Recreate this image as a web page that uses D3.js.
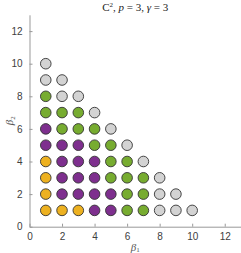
<!DOCTYPE html>
<html>
<head>
<meta charset="utf-8">
<script src="https://cdn.jsdelivr.net/npm/d3@7"></script>
<style>
  body { margin: 0; background: #fff; }
  .tick text { font-family: "Liberation Sans", Arial, sans-serif; font-size: 10px; fill: #404040; }
  .axis path, .axis line { stroke: #999; }
</style>
</head>
<body>
<svg width="241" height="253"></svg>
<script>
// category per row (beta2 = 1..10), entries are beta1 = 1..n
var classNames = ["yellow", "purple", "green", "gray"];
var classColors = ["#EDB120", "#7E2F8E", "#77AC30", "#D3D3D3"];
var rowClasses = [
    [0, 0, 0, 1, 1, 2, 2, 3, 3, 3],
    [0, 1, 1, 1, 1, 2, 2, 3, 3],
    [0, 1, 1, 1, 2, 2, 2, 3],
    [0, 1, 1, 1, 2, 2, 3],
    [1, 1, 1, 2, 2, 3],
    [1, 2, 2, 2, 3],
    [2, 2, 2, 3],
    [2, 3, 3],
    [3, 3],
    [3]
];
var xTicks = [0, 2, 4, 6, 8, 10, 12];
var yTicks = [0, 2, 4, 6, 8, 10, 12];

var points = [];
rowClasses.forEach(function (row, j) {
    row.forEach(function (c, i) {
        points.push({b1: i + 1, b2: j + 1, cls: c});
    });
});

var svg = d3.select("svg"),
    margin = {top: 14.8, right: 0, bottom: 26.3, left: 29.5},
    width = +svg.attr("width") - margin.left - margin.right,
    height = +svg.attr("height") - margin.top - margin.bottom;

var x = d3.scaleLinear().domain([0, 13]).range([0, width]),
    y = d3.scaleLinear().domain([0, 13]).range([height, 0]);

var g = svg.append("g")
    .attr("transform", "translate(" + margin.left + "," + margin.top + ")");

g.append("g")
    .attr("class", "axis axis--x")
    .attr("transform", "translate(0," + height + ")")
    .call(d3.axisBottom(x).tickValues(xTicks).tickSizeInner(-3).tickSizeOuter(0).tickPadding(6));

g.append("g")
    .attr("class", "axis axis--y")
    .call(d3.axisLeft(y).tickValues(yTicks).tickSizeInner(-3).tickSizeOuter(0).tickPadding(7));

g.selectAll(".dot")
    .data(points)
    .enter().append("circle")
    .attr("class", function (d) { return "dot " + classNames[d.cls]; })
    .attr("cx", function (d) { return x(d.b1); })
    .attr("cy", function (d) { return y(d.b2); })
    .attr("r", 5.3)
    .attr("fill", function (d) { return classColors[d.cls]; })
    .attr("stroke", "#333")
    .attr("stroke-width", 0.9);

// title
var title = svg.append("text")
    .attr("x", margin.left + width / 2)
    .attr("y", 11)
    .attr("text-anchor", "middle")
    .style("font-family", "'Liberation Serif', 'DejaVu Serif', serif")
    .style("font-size", "11px")
    .style("fill", "#222");
title.append("tspan").text("C");
title.append("tspan").attr("dy", -4).style("font-size", "7px").text("2");
title.append("tspan").attr("dy", 4).text(", ");
title.append("tspan").style("font-style", "italic").text("p");
title.append("tspan").text(" = 3, ");
title.append("tspan").style("font-style", "italic").text("γ");
title.append("tspan").text(" = 3");

// axis labels
var xl = svg.append("text")
    .attr("x", margin.left + width / 2)
    .attr("y", 250.5)
    .attr("text-anchor", "middle")
    .style("font-family", "'Liberation Serif', 'DejaVu Serif', serif")
    .style("font-size", "11px")
    .style("fill", "#555");
xl.append("tspan").style("font-style", "italic").text("β");
xl.append("tspan").attr("dy", 1.5).style("font-size", "7px").text("1");

var yl = svg.append("text")
    .attr("transform", "translate(13," + (margin.top + height / 2) + ") rotate(-90)")
    .attr("text-anchor", "middle")
    .style("font-family", "'Liberation Serif', 'DejaVu Serif', serif")
    .style("font-size", "11px")
    .style("fill", "#555");
yl.append("tspan").style("font-style", "italic").text("β");
yl.append("tspan").attr("dy", 1.5).style("font-size", "7px").text("2");
</script>
</body>
</html>
